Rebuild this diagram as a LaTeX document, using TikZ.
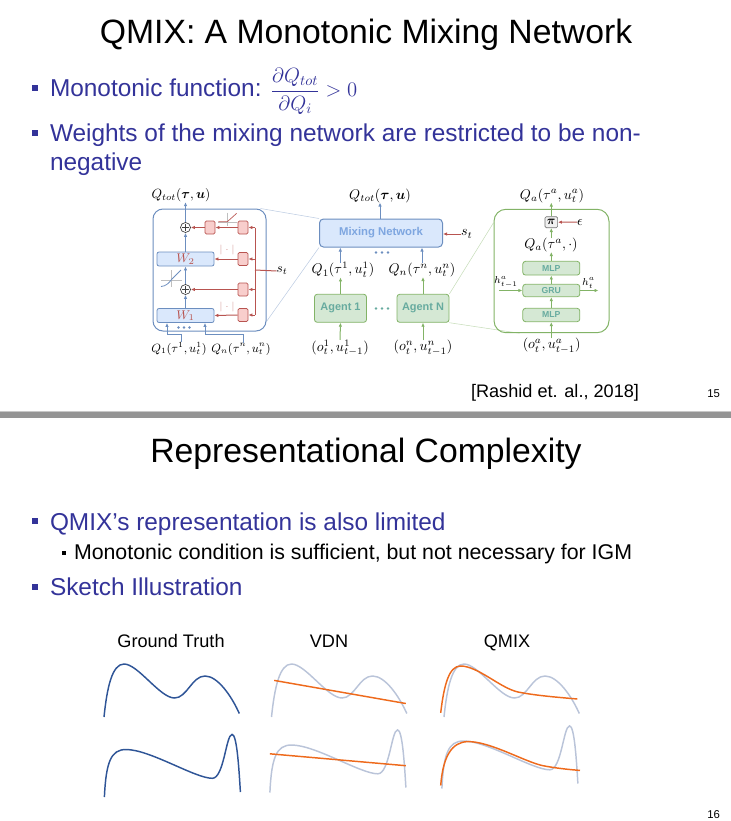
\RequirePackage{fix-cm}
\documentclass[tikz,border=0pt]{standalone}
\usepackage{amsmath}
\usepackage{fontspec}
\setmainfont{Liberation Sans}
\usetikzlibrary{arrows.meta,backgrounds,calc}
\definecolor{slideblue}{HTML}{333399}
\definecolor{bC}{HTML}{6C8EBF}
\definecolor{bF}{HTML}{DAE8FC}
\definecolor{rC}{HTML}{B85450}
\definecolor{rF}{HTML}{F8CECC}
\definecolor{gC}{HTML}{82B366}
\definecolor{gF}{HTML}{D5E8D4}
\definecolor{tealT}{HTML}{67AB9F}
\definecolor{mixT}{HTML}{7EA6E0}
\definecolor{gtC}{HTML}{2F5597}
\definecolor{grC}{HTML}{BAC4D9}
\definecolor{orC}{HTML}{EE6A1C}
\tikzset{
  curveTop/.style={insert path={(104,717) .. controls (107,688) and (112,664) .. (124,664) .. controls (138,664) and (160,698) .. (174.5,698) .. controls (187,698) and (192,676) .. (205,676) .. controls (218,676) and (232,697) .. (239.3,713.5)}},
  curveBot/.style={insert path={(104.4,797) .. controls (106,762) and (111,749.5) .. (126,749.5) .. controls (150,749.5) and (195,778.3) .. (212.3,778.3) .. controls (224,778.3) and (226,734.4) .. (232.1,734.4) .. controls (237,734.4) and (239,770) .. (240.4,792)}},
}
\begin{document}
\begin{tikzpicture}[x=0.75pt,y=-0.75pt,
  >={Latex[length=3pt,width=2.6pt]},
  txt/.style={inner sep=0pt, outer sep=0pt},
  ttl/.style={txt, anchor=base, font=\fontsize{25.3}{30}\selectfont},
  bul/.style={txt, anchor=base west, text=slideblue, font=\fontsize{18.3}{22}\selectfont},
  bsq/.style={fill=slideblue, minimum size=4.5pt, inner sep=0pt},
  ssq/.style={fill=black, minimum size=3.4pt, inner sep=0pt},
  sub/.style={txt, anchor=base west, font=\fontsize{16}{19}\selectfont},
  lab/.style={txt, anchor=base, font=\fontsize{13.6}{16}\selectfont},
  mlX/.style={txt, font=\fontsize{9}{11}\selectfont},
  mlS/.style={txt, font=\fontsize{10}{12}\selectfont},
  mlM/.style={txt, font=\fontsize{10.5}{12}\selectfont},
  mlT/.style={txt, font=\fontsize{7.5}{9}\selectfont},
  bline/.style={draw=bC, line width=0.75pt},
  rline/.style={draw=rC, line width=0.75pt},
  gline/.style={draw=gC, line width=0.75pt},
  rbx/.style={draw=rC, fill=rF, line width=0.6pt, minimum width=7.5pt, minimum height=9.75pt, inner sep=0pt, rounded corners=1pt},
  wbx/.style={draw=bC, fill=bF, line width=0.6pt, minimum width=42.75pt, minimum height=10.5pt, inner sep=0pt, rounded corners=1.5pt, text=rC, font=\fontsize{9.5}{10}\selectfont},
  pls/.style={circle, draw=black!75, line width=0.5pt, minimum size=7.5pt, inner sep=0pt, fill=white,
    path picture={\draw[black!75,line width=0.5pt] ([xshift=-2.6pt]path picture bounding box.center) -- ([xshift=2.6pt]path picture bounding box.center) ([yshift=-2.6pt]path picture bounding box.center) -- ([yshift=2.6pt]path picture bounding box.center);}},
  gbx/.style={draw=gC, fill=gF, line width=0.6pt, inner sep=0pt, rounded corners=2pt, text=tealT},
  gt/.style={draw=gtC, line width=1.1pt},
  gry/.style={draw=grC, line width=1.1pt},
  org/.style={draw=orC, line width=1.1pt},
]
\useasboundingbox (0,0) rectangle (731,821);

% ---------- slide 15 ----------
\node[ttl] (t1) at (366,43) {QMIX: A Monotonic Mixing Network};
\node[bsq] (b1sq) at (35,88) {};
\node[bul] (b1) at (50,96.5) {Monotonic function: {\fontsize{15.5}{18}\selectfont$\dfrac{\partial Q_{tot}}{\partial Q_i} > 0$}};
\node[bsq] (b2sq) at (35,133) {};
\node[bul] (b2a) at (50,141.5) {Weights of the mixing network are restricted to be non-};
\node[bul] (b2b) at (50,170.5) {negative};

% ---- left: mixing network detail ----
\node[draw=bC, line width=0.75pt, rounded corners=7.5pt, minimum width=84.75pt, minimum height=91.5pt, inner sep=0pt] (L) at (209.5,270) {};
\node[mlS] (QtL) at (181,195.5) {$Q_{tot}(\boldsymbol{\tau},\boldsymbol{u})$};
\node[pls] (P2) at (185.5,227.5) {};
\node[rbx] (R2L) at (210,227.5) {};
\node[rbx] (R2R) at (243,227.5) {};
\node[wbx] (W2) at (185.5,259) {$W_2$};
\node[rbx] (RW2) at (243,259) {};
\node[pls] (P1) at (185.5,289.5) {};
\node[rbx] (RP1) at (243,289.5) {};
\node[wbx] (W1) at (185.5,315.5) {$W_1$};
\node[rbx] (RW1) at (243,315) {};
\node[txt, text=rC!60, font=\fontsize{7.5}{8}\selectfont] (ab2) at (227,249.5) {$|\cdot|$};
\node[txt, text=rC!60, font=\fontsize{7.5}{8}\selectfont] (ab1) at (227,306.5) {$|\cdot|$};
\node[mlX] (Q1L) at (179,349) {$Q_1(\tau^1,u^1_t)$};
\node[mlX] (QnL) at (241,349) {$Q_n(\tau^n,u^n_t)$};
\node[mlS, anchor=west] (stL) at (276.5,271) {$s_t$};
\coordinate (bT) at (255,227.5);
\coordinate (bB) at (255,315);
\coordinate (bM) at (255,270);
\foreach \xx in {178.5,184,189.5} \fill[bC] (\xx,327.5) circle (1.1pt);
% relu glyph
\draw[black!25, line width=0.3pt] (218,221.7) -- (237,221.7) (227.3,212.5) -- (227.3,226);
\draw[rC, line width=0.5pt] (218.3,221.7) -- (227.3,221.7) -- (236.7,213.3);
% elu glyph
\draw[black!25, line width=0.3pt] (161,280) -- (182,280) (171.5,270) -- (171.5,287);
\draw[bC, line width=0.6pt] (161,286.5) .. controls (166,286.2) and (169,283) .. (172,279) -- (181,270);
% red connectors
\draw[rline] (bT) -- (bB);
\draw[rline] (bM) -- (stL.west);
\draw[rline,->] (bT) -- (R2R.east);
\draw[rline,->] (RW2.east -| bT) -- (RW2.east);
\draw[rline,->] (RP1.east -| bT) -- (RP1.east);
\draw[rline,->] (RW1.east -| bT) -- (RW1.east);
\draw[rline,->] (R2R.west) -- (R2L.east);
\draw[rline,->] (R2L.west) -- (P2.east);
\draw[rline,->] (RW2.west) -- (W2.east);
\draw[rline,->] (RP1.west) -- (P1.east);
\draw[rline,->] (RW1.west) -- (W1.east);
% blue connectors
\draw[bline,->] (W1.north) -- (P1.south);
\draw[bline,->] (P1.north) -- (W2.south);
\draw[bline,->] (W2.north) -- (P2.south);
\draw[bline,->] (P2.north) -- (P2.north |- QtL.south);
\draw[bline,->] ([xshift=2pt]Q1L.north) |- ($(W1.south)+(-18.5,11.5)$) -- ($(W1.south)+(-18.5,0)$);
\draw[bline,->] ([xshift=1.5pt]QnL.north) |- ($(W1.south)+(19.5,11.5)$) -- ($(W1.south)+(19.5,0)$);

% ---- middle: overview ----
\node[draw=bC, fill=bF, line width=0.75pt, rounded corners=3pt, minimum width=92.25pt, minimum height=21pt, inner sep=0pt, text=mixT, font=\bfseries\fontsize{8.5}{10}\selectfont] (Mix) at (381,233) {Mixing Network};
\node[mlM] (QtM) at (380,195.5) {$Q_{tot}(\boldsymbol{\tau},\boldsymbol{u})$};
\node[mlM, anchor=west] (stM) at (461,234) {$s_t$};
\foreach \xx in {376,382,388} \fill[bC] (\xx,252.5) circle (1.1pt);
\node[mlM] (Q1M) at (343,270) {$Q_1(\tau^1,u^1_t)$};
\node[mlM] (QnM) at (422,270) {$Q_n(\tau^n,u^n_t)$};
\node[gbx, minimum width=39pt, minimum height=21pt, font=\bfseries\fontsize{8.2}{10}\selectfont] (A1) at (340.5,308.3) {Agent 1};
\node[gbx, minimum width=39pt, minimum height=21pt, font=\bfseries\fontsize{8.2}{10}\selectfont] (AN) at (423,308.3) {Agent N};
\foreach \xx in {376,382,388} \fill[tealT] (\xx,308.5) circle (1.1pt);
\node[mlM] (I1) at (340,348) {$(o^1_t,u^1_{t-1})$};
\node[mlM] (IN) at (423,348) {$(o^n_t,u^n_{t-1})$};
\draw[bline,->] (Mix.north -| QtM.south) -- (QtM.south);
\draw[rline,->] (stM.west) -- (Mix.east |- stM.west);
\draw[bline,->] ([xshift=-2pt]Q1M.north) -- ([xshift=-2pt]Q1M.north |- Mix.south);
\draw[bline,->] (QnM.north) -- (QnM.north |- Mix.south);
\draw[gline,->] (A1.north) -- (A1.north |- Q1M.south);
\draw[gline,->] (AN.north) -- (AN.north |- QnM.south);
\draw[gline,->] (I1.north) -- (A1.south);
\draw[gline,->] (IN.north) -- (AN.south);

% ---- right: agent detail ----
\node[draw=gC, line width=0.75pt, rounded corners=9pt, minimum width=86.25pt, minimum height=92.6pt, inner sep=0pt] (R) at (551.5,271) {};
\node[mlM] (QaT) at (552,195.5) {$Q_a(\tau^a,u^a_t)$};
\node[draw=black!55, fill=black!6, line width=0.5pt, rounded corners=1pt, minimum width=9.5pt, minimum height=8.25pt, inner sep=0pt, font=\fontsize{9}{10}\selectfont] (Pi) at (551.3,222.2) {$\boldsymbol{\pi}$};
\node[mlM, anchor=west] (eps) at (577,222) {$\epsilon$};
\node[mlM] (QaM) at (551,245) {$Q_a(\tau^a,\cdot)$};
\node[gbx, minimum width=42.75pt, minimum height=10.3pt, font=\bfseries\fontsize{6.5}{8}\selectfont] (MLP2) at (551.3,268.2) {MLP};
\node[gbx, minimum width=42.75pt, minimum height=9.3pt, font=\bfseries\fontsize{6.5}{8}\selectfont] (GRU) at (551.3,290.5) {GRU};
\node[gbx, minimum width=42.75pt, minimum height=10pt, font=\bfseries\fontsize{6.5}{8}\selectfont] (MLP1) at (551.3,315) {MLP};
\node[mlM] (Iin) at (551.7,346) {$(o^a_t,u^a_{t-1})$};
\node[mlT] (hp) at (506,282) {$h^a_{t-1}$};
\node[mlT] (hn) at (588.5,283) {$h^a_t$};
\coordinate (hA) at (499,290.5);
\coordinate (hB) at (598.5,290.5);
\draw[rline,->] (eps.west) -- (Pi.east);
\draw[gline,->] (Pi.north) -- (Pi.north |- QaT.south);
\draw[gline,->] (QaM.north -| Pi.south) -- (Pi.south);
\draw[gline,->] (MLP2.north) -- (MLP2.north |- QaM.south);
\draw[gline,->] (GRU.north) -- (MLP2.south);
\draw[gline,->] (MLP1.north) -- (GRU.south);
\draw[gline,->] (Iin.north -| MLP1.south) -- (MLP1.south);
\draw[gline,->] (hA) -- (GRU.west);
\draw[gline,->] (GRU.east) -- (hB);

% zoom lines
\begin{scope}[on background layer]
\draw[bC!45, line width=0.4pt] ($(L.north east)+(-6,0)$) -- (Mix.north west);
\draw[bC!45, line width=0.4pt] ($(L.south east)+(0,-10)$) -- (Mix.south west);
\draw[gC!45, line width=0.4pt] (AN.north east) -- ($(R.north west)+(0,14)$);
\draw[gC!45, line width=0.4pt] (AN.south east) -- ($(R.south west)+(26,0)$);
\end{scope}

\node[txt, anchor=base west, font=\fontsize{13.6}{16}\selectfont] (cite) at (471,397) {[Rashid et. al., 2018]};
\node[txt, anchor=base east, font=\fontsize{8.5}{10}\selectfont] (pn15) at (720,397) {15};

% separator
\fill[black!22] (0,410.8) rectangle (731,412.3);
\fill[black!42] (0,412.3) rectangle (731,418);

% ---------- slide 16 ----------
\node[ttl] (t2) at (366,462) {Representational Complexity};
\node[bsq] (c1sq) at (35,521) {};
\node[bul] (c1) at (50,530) {QMIX’s representation is also limited};
\node[ssq] (c2sq) at (64,553) {};
\node[sub] (c2) at (74,559) {Monotonic condition is sufficient, but not necessary for IGM};
\node[bsq] (c3sq) at (35,587) {};
\node[bul] (c3) at (50,595) {Sketch Illustration};

\node[lab] (lgt) at (171,647) {Ground Truth};
\node[lab] (lvdn) at (329,647) {VDN};
\node[lab] (lqm) at (507,647) {QMIX};

% curves
\draw[gt, curveTop];
\draw[gt, curveBot];
\draw[gry, shift={(167.5,0)}, curveTop];
\draw[gry, shift={(165.5,-4.5)}, curveBot];
\draw[gry, shift={(340,0)}, curveTop];
\draw[gry, shift={(337.5,-8.5)}, curveBot];
\draw[org] (274.2,680.4) -- (405.8,703.5);
\draw[org] (269.9,753.8) -- (405.8,765.7);
\draw[org] (440.7,712.8) .. controls (444,685) and (449,666) .. (460.5,666) .. controls (478,666) and (500,688) .. (518,692) .. controls (535,695.5) and (560,697.5) .. (577.4,699);
\draw[org] (440.7,785.5) .. controls (443,756) and (452,742) .. (467.7,741.6) .. controls (490,741.2) and (525,762) .. (543,765.7) .. controls (555,768) and (568,769.5) .. (580,770.4);

\node[txt, anchor=base east, font=\fontsize{8.5}{10}\selectfont] (pn16) at (720,818) {16};
\end{tikzpicture}
\end{document}
